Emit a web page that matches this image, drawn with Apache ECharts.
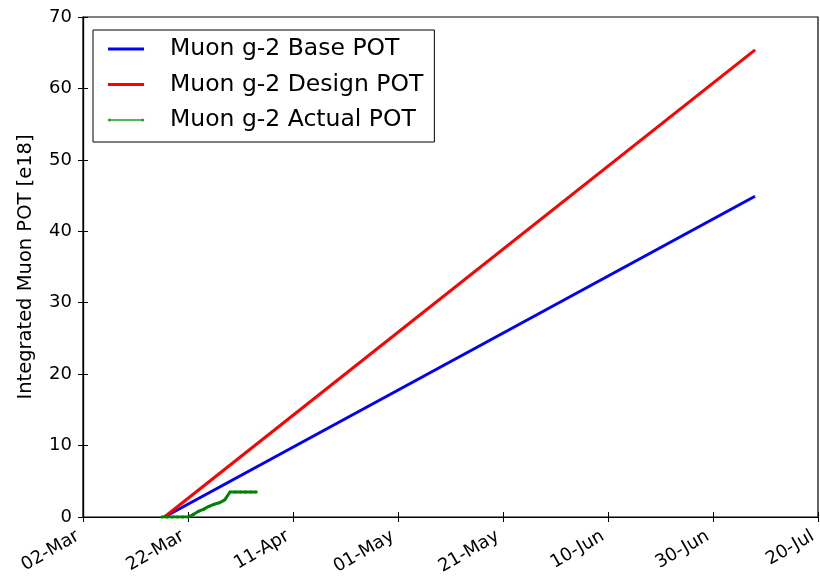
<!DOCTYPE html>
<html><head><meta charset="utf-8">
<script src="https://cdn.jsdelivr.net/npm/echarts@6/dist/echarts.min.js"></script>
<style>html,body{margin:0;padding:0;background:#fff}#c{width:820px;height:579px}</style>
</head><body><div id="c"></div>
<script>
const originDate = '2018-03-02';
const xTickLabels = ['02-Mar','22-Mar','11-Apr','01-May','21-May','10-Jun','30-Jun','20-Jul'];
const yTickLabels = ['0','10','20','30','40','50','60','70'];

const baseDates = ['2018-03-17T12:00:00', '2018-07-08T00:00:00'];
const baseValues = [0, 44.9];
const designDates = ['2018-03-17T12:00:00', '2018-07-08T00:00:00'];
const designValues = [0, 65.4];
const actualDates = ['2018-03-17','2018-03-18','2018-03-19','2018-03-20','2018-03-21','2018-03-22','2018-03-23','2018-03-24','2018-03-25','2018-03-26','2018-03-27','2018-03-28','2018-03-29','2018-03-30','2018-03-31','2018-04-01','2018-04-02','2018-04-03','2018-04-04'];
const actualValues = [0,0,0,0,0,0,0.35,0.8,1.1,1.5,1.8,2.0,2.4,3.5,3.5,3.5,3.5,3.5,3.5];

const seriesNames = ['Muon g-2 Base POT','Muon g-2 Design POT','Muon g-2 Actual POT'];

function dayOffset(d){
  const s = d.length === 10 ? d + 'T00:00:00' : d;
  return (Date.parse(s + 'Z') - Date.parse(originDate + 'T00:00:00Z')) / 86400000;
}
function pairs(dates, vals){ return dates.map((d,i)=>[dayOffset(d), vals[i]]); }

const FONT = 'DejaVu Sans';
const chart = echarts.init(document.getElementById('c'));
const xCommon = {type:'value', min:0, max:140, interval:20, splitLine:{show:false}};
const yCommon = {type:'value', min:0, max:70, interval:10, splitLine:{show:false}};
const actualIcon = 'path://M0,0.8 L36,0.8 L36,2.2 L0,2.2 Z M0,1.5 A1.5,1.5 0 1 1 3,1.5 A1.5,1.5 0 1 1 0,1.5 Z M33,1.5 A1.5,1.5 0 1 1 36,1.5 A1.5,1.5 0 1 1 33,1.5 Z';
chart.setOption({
  animation:false,
  textStyle:{fontFamily:FONT},
  grid:{left:83, right:2, top:17, bottom:62, show:true, borderColor:'#000', borderWidth:1.2,
    outerBoundsMode:'none', containLabel:false},
  legend:{
    orient:'vertical', left:93, top:30,
    data:[{name:seriesNames[0], icon:'rect'},{name:seriesNames[1], icon:'rect'},{name:seriesNames[2], icon:actualIcon, itemStyle:{color:'#2a9a2a'}}],
    itemWidth:36, itemHeight:3, itemGap:11.5,
    padding:[7,11,10,15],
    borderColor:'#000', borderWidth:1, backgroundColor:'#fff',
    textStyle:{fontFamily:FONT, fontSize:23.5, color:'#000', padding:[0,0,0,21]}
  },
  xAxis:[
    Object.assign({}, xCommon, {position:'bottom',
      axisLine:{show:true, lineStyle:{color:'#000', width:1.2}},
      axisTick:{show:true, inside:true, length:5, lineStyle:{color:'#000'}},
      axisLabel:{show:true, rotate:30, margin:15, color:'#000', fontSize:18, fontFamily:FONT,
        padding:[0,6,0,0],
        formatter:v=>xTickLabels[Math.round(v/20)]}}),
    Object.assign({}, xCommon, {position:'top',
      axisLine:{show:true, lineStyle:{color:'#000', width:1.2}},
      axisTick:{show:true, inside:true, length:5, lineStyle:{color:'#000'}},
      axisLabel:{show:false}})
  ],
  yAxis:[
    Object.assign({}, yCommon, {position:'left',
      name:'Integrated Muon POT [e18]', nameLocation:'middle', nameGap:47, nameRotate:90,
      nameTextStyle:{fontFamily:FONT, fontSize:19.5, color:'#000'},
      axisLine:{show:true, lineStyle:{color:'#000', width:1.2}},
      axisTick:{show:true, inside:true, length:5, lineStyle:{color:'#000'}},
      axisLabel:{show:true, margin:11, color:'#000', fontSize:18, fontFamily:FONT,
        formatter:v=>yTickLabels[Math.round(v/10)]}}),
    Object.assign({}, yCommon, {position:'right',
      axisLine:{show:true, lineStyle:{color:'#000', width:1.2}},
      axisTick:{show:true, inside:true, length:5, lineStyle:{color:'#000'}},
      axisLabel:{show:false}})
  ],
  series:[
    {name:seriesNames[0], type:'line', data:pairs(baseDates, baseValues), showSymbol:false, symbol:'none',
      lineStyle:{color:'#0000ff', width:3}, itemStyle:{color:'#0000ff'}},
    {name:seriesNames[1], type:'line', data:pairs(designDates, designValues), showSymbol:false, symbol:'none',
      lineStyle:{color:'#ff0000', width:3}, itemStyle:{color:'#ff0000'}},
    {name:seriesNames[2], type:'line', data:pairs(actualDates, actualValues), symbol:'circle', symbolSize:3, showSymbol:true,
      lineStyle:{color:'#008000', width:3}, itemStyle:{color:'#008000'}}
  ]
});
</script></body></html>
